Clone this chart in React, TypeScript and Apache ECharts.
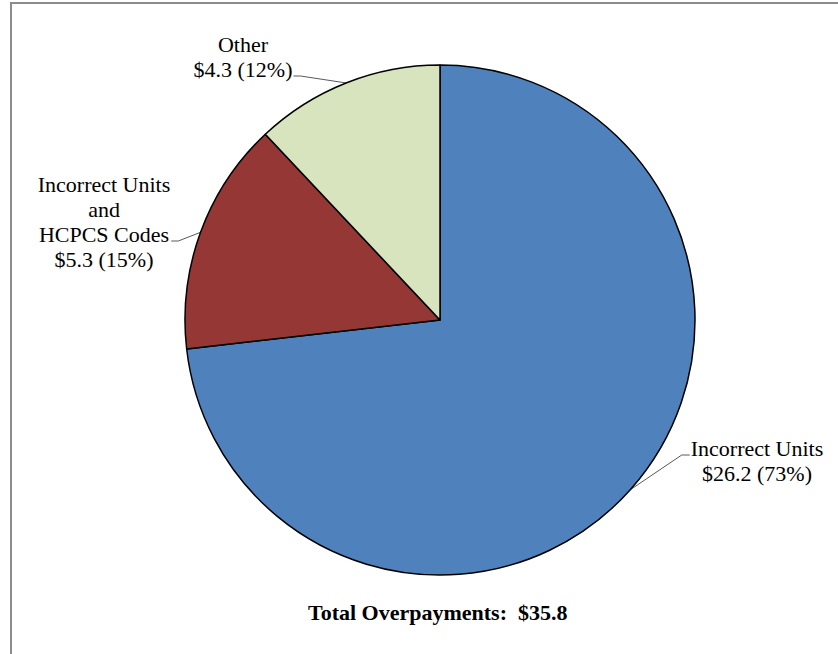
import React, { useEffect, useRef } from "react";
import * as echarts from "echarts";

const categories = ["Incorrect Units", "Incorrect Units\nand\nHCPCS Codes", "Other"];
const amounts = [26.2, 5.3, 4.3];
const totalLabel = "Total Overpayments:  $35.8";
const colors = ["#4F81BD", "#953735", "#D7E4BD"];

// label layout (centre of label block, y of leader-line end, side of label relative to anchor)
const labelSpots = [
  { x: 757, y: 461, lineY: 455, side: "right" },
  { x: 104, y: 222, lineY: 241, side: "left" },
  { x: 243, y: 57, lineY: 76, side: "left" },
];

export default function App() {
  const ref = useRef<HTMLDivElement>(null);
  useEffect(() => {
    if (!ref.current) return;
    const chart = echarts.init(ref.current, null, { renderer: "svg" });
    const font = "'Liberation Serif', 'Times New Roman', serif";
    chart.setOption({
      animation: false,
      backgroundColor: "#ffffff",
      title: {
        text: totalLabel,
        left: 303,
        top: 596,
        textStyle: { fontFamily: font, fontWeight: "bold", fontSize: 22, color: "#000" },
      },
      graphic: [
        {
          type: "rect",
          shape: { x: 11, y: 3, width: 900, height: 800 },
          style: { fill: "none", stroke: "#8c8c8c", lineWidth: 2 },
          silent: true,
        },
      ],
      series: [
        {
          type: "pie",
          center: [440, 320],
          radius: 255,
          startAngle: 90,
          clockwise: true,
          avoidLabelOverlap: false,
          data: categories.map((c, i) => ({
            name: c,
            value: amounts[i],
            itemStyle: { color: colors[i] },
          })),
          itemStyle: { borderColor: "#000", borderWidth: 1.5 },
          label: {
            show: true,
            position: "outside",
            fontFamily: font,
            fontSize: 22,
            lineHeight: 25,
            color: "#000",
            align: "center",
            formatter: (p: any) => `${p.name}\n$${p.value} (${Math.round(p.percent)}%)`,
          },
          labelLine: { show: true, lineStyle: { color: "#595959", width: 1 } },
          labelLayout: (params: any) => {
            const s = labelSpots[params.dataIndex];
            const w = params.labelRect.width;
            const anchor = params.labelLinePoints ? params.labelLinePoints[0] : null;
            const endX = s.side === "left" ? s.x + w / 2 + 1 : s.x - w / 2 - 1;
            const bendX = s.side === "left" ? endX + 7 : endX - 8;
            const res: any = { x: s.x, y: s.y, align: "center", verticalAlign: "middle" };
            if (anchor) {
              res.labelLinePoints = [anchor, [bendX, s.lineY], [endX, s.lineY]];
            }
            return res;
          },
          emphasis: { disabled: true },
        },
      ],
    });
    return () => chart.dispose();
  }, []);
  return (
    <div
      ref={ref}
      style={{ position: "absolute", left: 0, top: 0, width: 838, height: 654 }}
    />
  );
}
